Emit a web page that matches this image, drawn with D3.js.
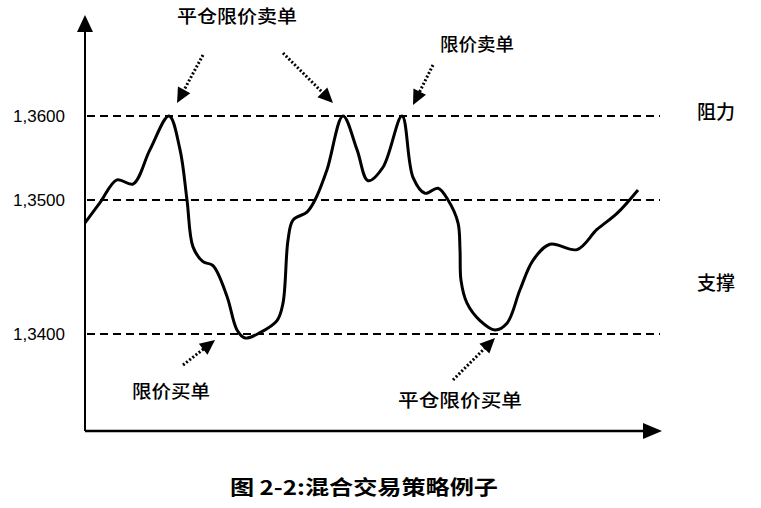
<!DOCTYPE html>
<html>
<head>
<meta charset="utf-8">
<script src="https://cdn.jsdelivr.net/npm/d3@7/dist/d3.min.js"></script>
<style>
  body { margin: 0; background: #fff; }
  svg { display: block; }
</style>
</head>
<body>
<div id="chart"></div>
<script>
// ---------------- data ----------------
var times  = [0, 15, 32, 48, 65, 84, 95, 102, 108, 118, 128, 142, 152, 160, 175, 192, 198, 203, 208,
              222, 230, 242, 258, 272, 283, 298, 317, 328, 340, 353, 363, 373, 375, 376, 382, 395,
              410, 422, 435, 448, 465, 492, 512, 532, 553];
var prices = [1.3483, 1.3498, 1.3524, 1.3519, 1.3560, 1.3600, 1.3560, 1.3500, 1.3465, 1.3454, 1.3451,
              1.3428, 1.3403, 1.3397, 1.3401, 1.3410, 1.3423, 1.3470, 1.3485, 1.3491, 1.3500, 1.3536,
              1.3600, 1.3560, 1.3523, 1.3539, 1.3600, 1.3527, 1.3508, 1.3514, 1.3500, 1.3483, 1.3463,
              1.3440, 1.3423, 1.3410, 1.3403, 1.3408, 1.3433, 1.3455, 1.3467, 1.3463, 1.3478, 1.3490,
              1.3512];
var levelValues = [1.36, 1.35, 1.34];
var levelLabels = ["1,3600", "1,3500", "1,3400"];
var zoneLabels  = ["阻力", "支撑"];
var zoneValues  = [1.3604, 1.3438];
var title = "图 2-2:混合交易策略例子";

// ---------------- layout ----------------
var W = 761, H = 508;
var x = d3.scaleLinear().domain([0, 577]).range([85, 662]);
// the printed axis is not evenly spaced, so a piecewise scale
var y = d3.scaleLinear().domain([1.34, 1.35, 1.36]).range([334, 200, 116]);
var baseY = 431;

var svg = d3.select("#chart").append("svg")
    .attr("width", W).attr("height", H);

function arrowHead(g, tip, from, len, half) {
    var ang = Math.atan2(tip[1] - from[1], tip[0] - from[0]);
    var bx = tip[0] - len * Math.cos(ang), by = tip[1] - len * Math.sin(ang);
    var nx = -Math.sin(ang) * half, ny = Math.cos(ang) * half;
    g.append("path")
        .attr("d", "M" + tip + "L" + [bx + nx, by + ny] + "L" + [bx - nx, by - ny] + "Z")
        .attr("fill", "#000");
}

// dashed level lines
svg.selectAll("line.level")
    .data(levelValues)
    .enter().append("line")
    .attr("class", "level")
    .attr("x1", x(2)).attr("x2", x(575))
    .attr("y1", function (d) { return y(d); })
    .attr("y2", function (d) { return y(d); })
    .attr("stroke", "#000")
    .attr("stroke-width", 2)
    .attr("stroke-dasharray", "8,5");

// y labels
var yAxis = d3.axisLeft(y).tickValues(levelValues).tickSize(0).tickPadding(20)
    .tickFormat(function (d, i) { return levelLabels[i]; });
var gy = svg.append("g").attr("transform", "translate(" + x(0) + ",0)").call(yAxis);
gy.select(".domain").remove();
gy.selectAll("text")
    .style("font-family", "'Liberation Sans', Arial, sans-serif")
    .style("font-size", "17px")
    .attr("fill", "#000");

// axes with arrows
var axes = svg.append("g");
axes.append("line").attr("x1", x(0)).attr("x2", x(0)).attr("y1", baseY).attr("y2", 28)
    .attr("stroke", "#000").attr("stroke-width", 2);
arrowHead(axes, [x(0), 15], [x(0), 40], 17, 8);
axes.append("line").attr("x1", x(0)).attr("x2", x(560)).attr("y1", baseY).attr("y2", baseY)
    .attr("stroke", "#000").attr("stroke-width", 2.5);
arrowHead(axes, [x(577), baseY], [x(540), baseY], 19, 8);

// price line
var line = d3.line()
    .x(function (d, i) { return x(times[i]); })
    .y(function (d) { return y(d); })
    .curve(d3.curveCatmullRom.alpha(0.5));
svg.append("path")
    .datum(prices)
    .attr("d", line)
    .attr("fill", "none")
    .attr("stroke", "#000")
    .attr("stroke-width", 3)
    .attr("stroke-linejoin", "round");

// annotation arrows, each tied to a point of the line
var arrows = [
    { t: 84,  dx: 8,   dy: -13, tx: 26,  ty: -48 },
    { t: 258, dx: -10, dy: -13, tx: -50, ty: -50 },
    { t: 317, dx: 11,  dy: -11, tx: 20,  ty: -40 },
    { t: 160, dx: -30, dy: 2,   tx: -32, ty: 25 },
    { t: 410, dx: 0,   dy: 8,   tx: -42, ty: 42 }
];
var ag = svg.append("g");
arrows.forEach(function (a) {
    var i = times.indexOf(a.t);
    var tip = [x(times[i]) + a.dx, y(prices[i]) + a.dy];
    var tail = [tip[0] + a.tx, tip[1] + a.ty];
    var ang = Math.atan2(tip[1] - tail[1], tip[0] - tail[0]);
    var base = [tip[0] - 12 * Math.cos(ang), tip[1] - 12 * Math.sin(ang)];
    ag.append("line")
        .attr("x1", tail[0]).attr("y1", tail[1]).attr("x2", base[0]).attr("y2", base[1])
        .attr("stroke", "#000").attr("stroke-width", 3).attr("stroke-dasharray", "2,2");
    arrowHead(ag, tip, tail, 15, 7);
});

// annotation labels
var labels = [
    { text: "平仓限价卖单", cx: 237, cy: 17,  w: 120 },
    { text: "限价卖单",     cx: 477, cy: 45,  w: 74 },
    { text: "限价买单",     cx: 171, cy: 392, w: 78 },
    { text: "平仓限价买单", cx: 460, cy: 401, w: 124 }
];
svg.selectAll("text.note")
    .data(labels)
    .enter().append("text")
    .attr("class", "note")
    .attr("x", function (d) { return d.cx - d.w / 2; })
    .attr("y", function (d) { return d.cy; })
    .attr("dy", "0.36em")
    .attr("textLength", function (d) { return d.w; })
    .attr("lengthAdjust", "spacingAndGlyphs")
    .style("font-family", "'Noto Sans CJK SC', sans-serif")
    .style("font-size", "18px")
    .style("font-weight", "500")
    .text(function (d) { return d.text; });

// resistance / support
svg.selectAll("text.zone")
    .data(zoneLabels)
    .enter().append("text")
    .attr("class", "zone")
    .attr("x", 716)
    .attr("y", function (d, i) { return y(zoneValues[i]); })
    .attr("dy", "0.36em")
    .attr("text-anchor", "middle")
    .style("font-family", "'Noto Sans CJK SC', sans-serif")
    .style("font-size", "19px")
    .style("font-weight", "500")
    .text(function (d) { return d; });

// caption
svg.append("text")
    .attr("x", 230).attr("y", 488).attr("dy", "0.36em")
    .attr("textLength", 268)
    .attr("lengthAdjust", "spacingAndGlyphs")
    .style("font-family", "'Noto Sans CJK SC', sans-serif")
    .style("font-size", "20px")
    .style("font-weight", "bold")
    .text(title);
</script>
</body>
</html>
